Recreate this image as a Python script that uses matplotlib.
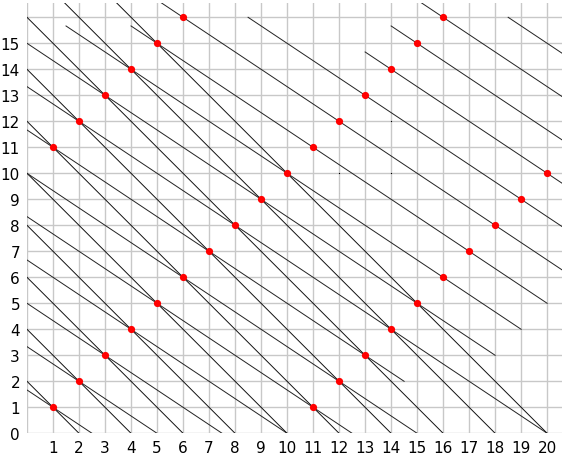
import matplotlib
matplotlib.use('Agg')
import matplotlib.pyplot as plt
import numpy as np

# red points
red_x = [1, 2, 3, 4, 5, 6,
         1, 2, 3, 4, 5, 6, 7, 8, 9, 10,
         11, 12, 13, 14, 15, 16, 17, 18, 19, 20,
         11, 12, 13, 14, 15, 16]
red_y = [11, 12, 13, 14, 15, 16,
         1, 2, 3, 4, 5, 6, 7, 8, 9, 10,
         1, 2, 3, 4, 5, 6, 7, 8, 9, 10,
         11, 12, 13, 14, 15, 16]

# steep lines: x + y = c, drawn from x0 to x1
steep_c = [2, 4, 6, 8, 10, 12, 14, 16, 18, 20]
steep_x0 = [0, 0, 0, 0, 0, 0, 0, 0, 0, 0]
steep_x1 = [2, 4, 6, 8, 10, 12, 14, 16, 18, 20]

# shallow lines: 2x + 3y = 5m, drawn from x0 to x1
shallow_m = [1, 2, 3, 4, 5, 6, 7, 8, 9, 10, 11, 12, 13, 14, 15, 16, 17]
shallow_x0 = [0, 0, 0, 0, 0, 0, 0, 0, 0, 1.5, 4, 5, 8.5, 13, 14, 15, 18.5]
shallow_x1 = [2.5, 5, 7.5, 10, 12.5, 15, 14.5, 20, 18, 19, 20, 21, 21, 21, 21, 21, 21]

# stray dots
dot_x = [14, 12, 14]
dot_y = [12, 10, 10]

x_ticks = list(range(0, 21))
x_labels = [''] + [str(i) for i in range(1, 21)]
y_ticks = list(range(0, 17))
y_labels = [str(i) for i in range(0, 16)] + ['']

fig = plt.figure(figsize=(5.7, 4.6), dpi=100)
ax = fig.add_axes([27 / 570, 1 - 434.3 / 460, (562 - 27) / 570, (434.3 - 4) / 460])

for c, a, b in zip(steep_c, steep_x0, steep_x1):
    xs = np.array([a, b])
    ax.plot(xs, c - xs, color='#111111', lw=0.7, zorder=2)

for m, a, b in zip(shallow_m, shallow_x0, shallow_x1):
    xs = np.array([a, b])
    ax.plot(xs, (5 * m - 2 * xs) / 3, color='#222222', lw=0.7, zorder=2)

ax.plot(dot_x, dot_y, 's', color='black', ms=0.8, mew=0, zorder=2)
ax.plot(red_x, red_y, 'o', color='red', ms=5.2, mew=0, zorder=3)

ax.set_xlim(0, 20.57)
ax.set_ylim(0, 16.55)
ax.set_xticks(x_ticks)
ax.set_xticklabels(x_labels)
ax.set_yticks(y_ticks)
ax.set_yticklabels(y_labels)
ax.grid(True, color='#c8c8c8', lw=1.0)
ax.set_axisbelow(True)
for s in ax.spines.values():
    s.set_visible(False)
ax.tick_params(length=0, pad=5, labelsize=11)
for lab in ax.get_xticklabels() + ax.get_yticklabels():
    lab.set_family(['Liberation Sans Narrow', 'DejaVu Sans'])

fig.savefig('out.png', dpi=100)
